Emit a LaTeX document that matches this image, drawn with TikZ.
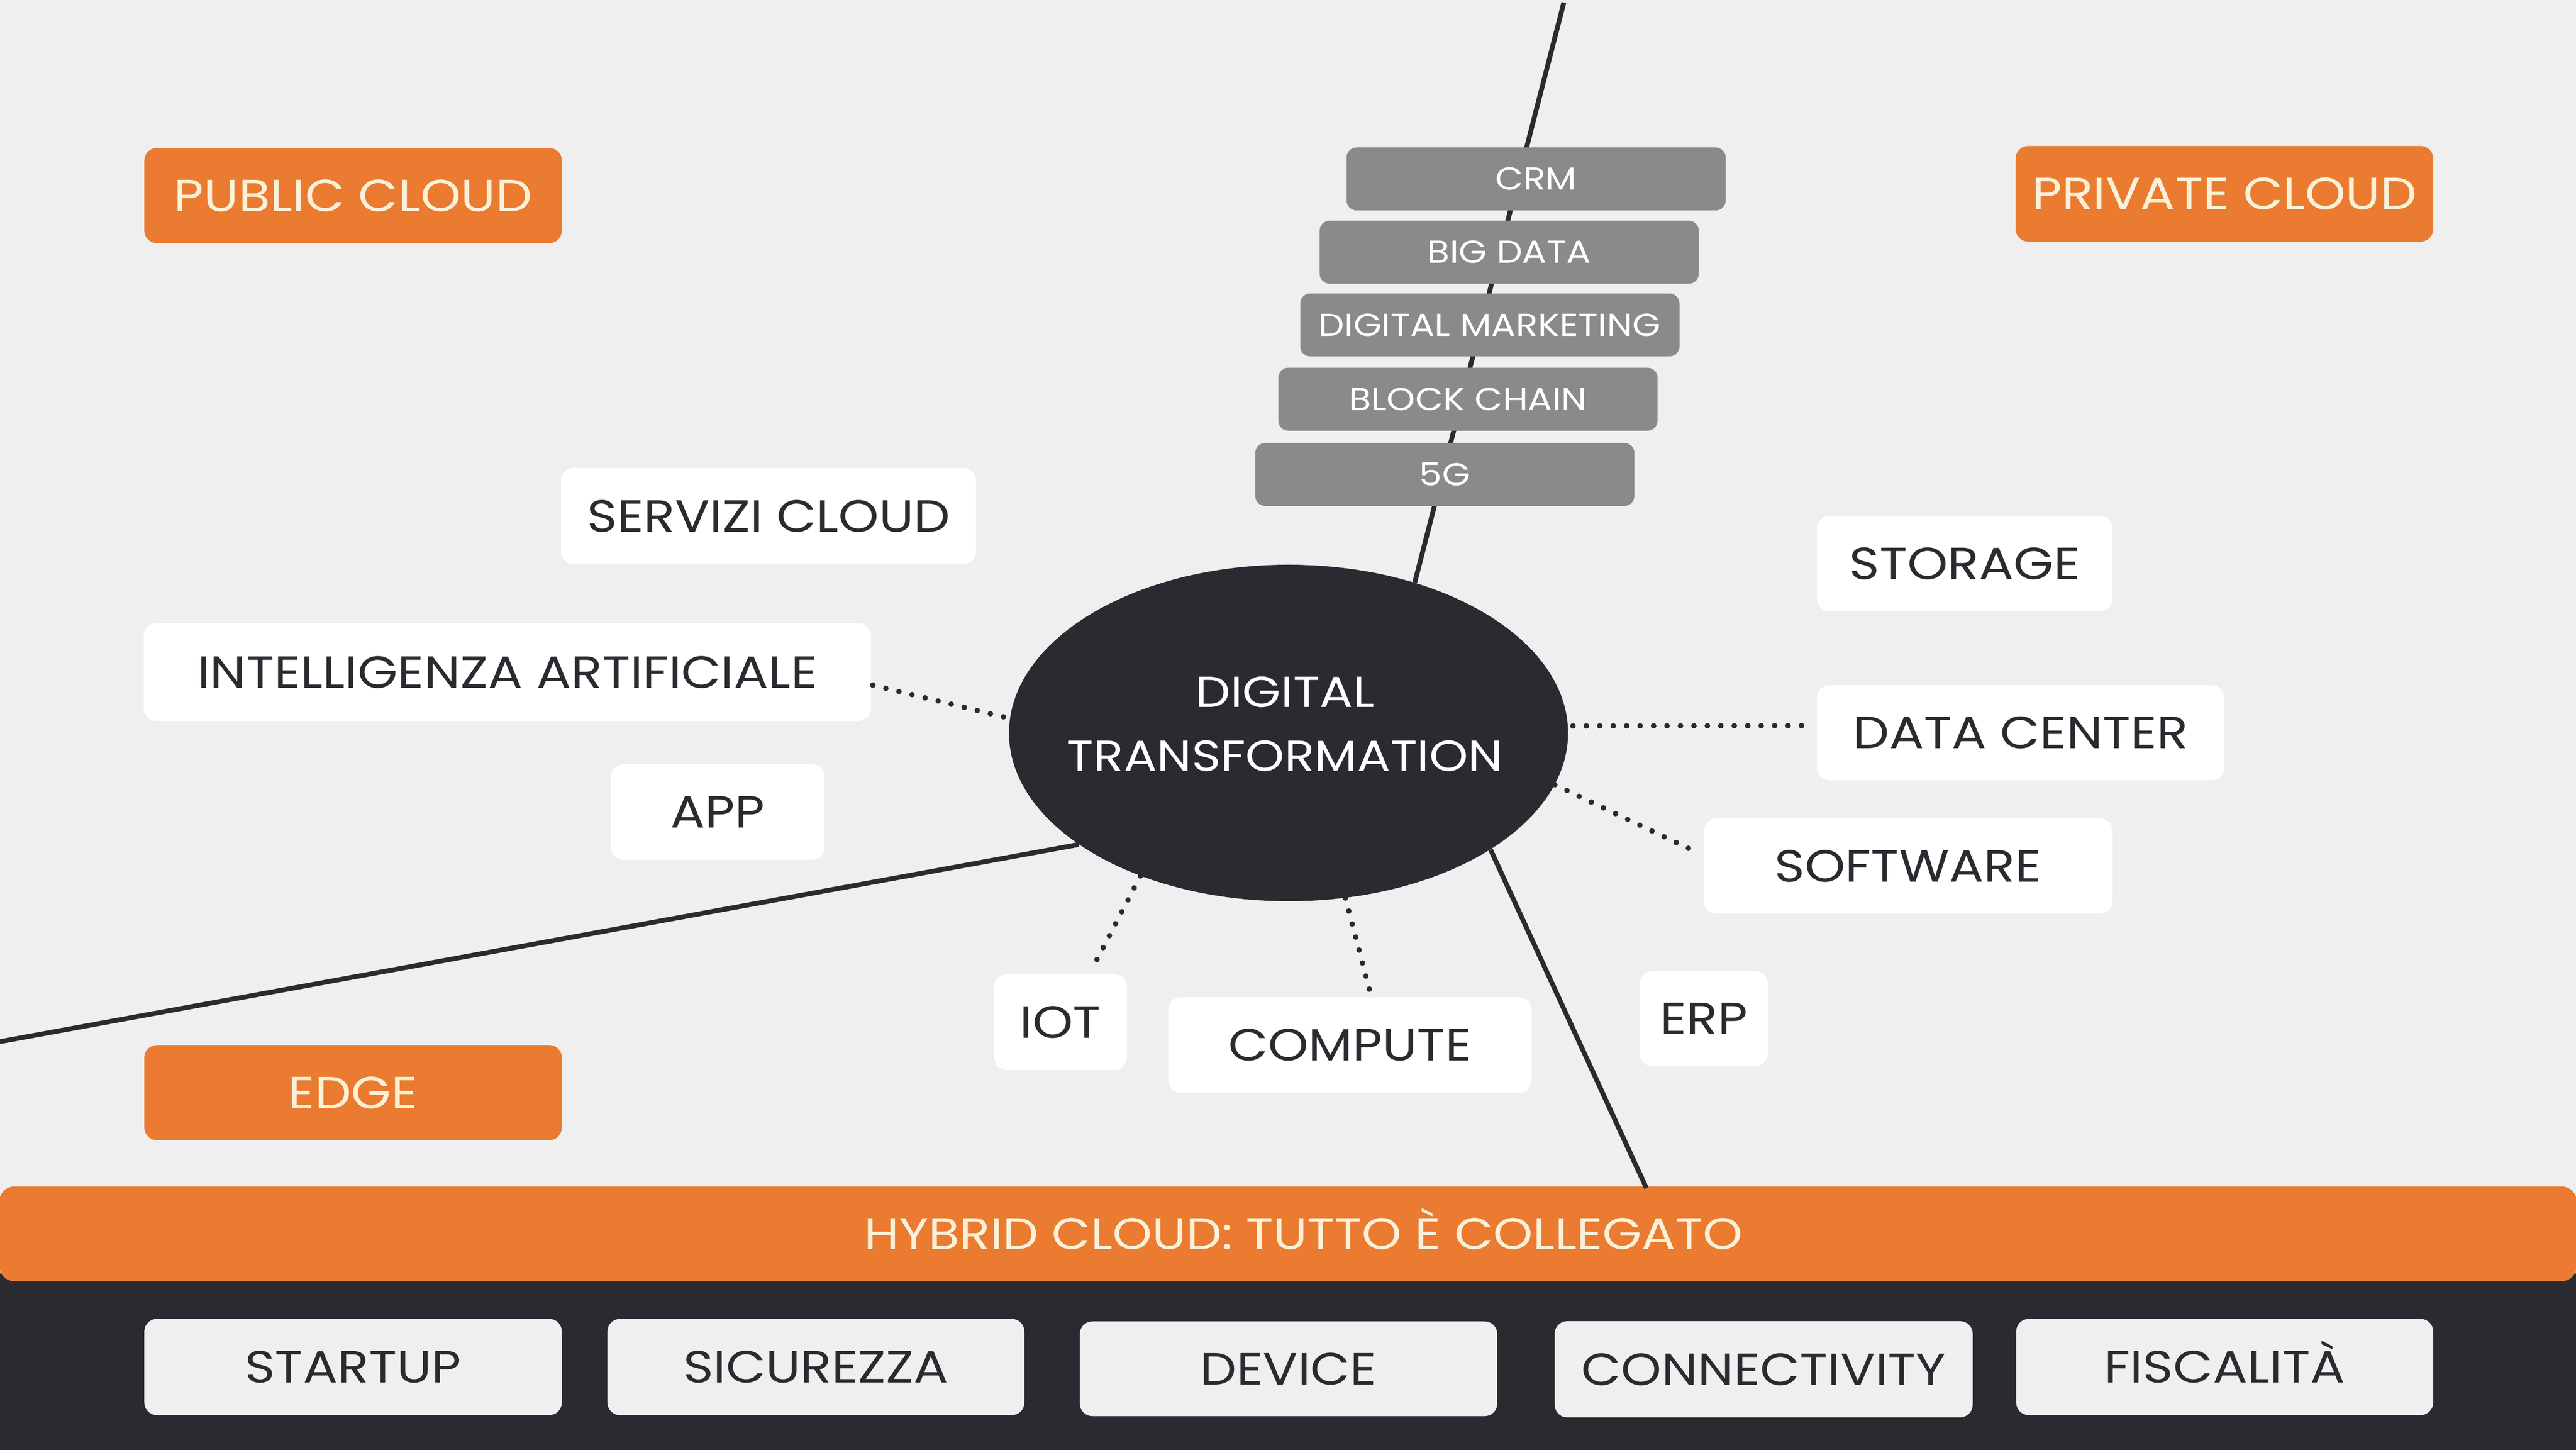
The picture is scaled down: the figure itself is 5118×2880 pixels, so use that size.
\documentclass[tikz,border=0pt]{standalone}
\usepackage{fontspec}
\setmainfont[FakeStretch=1.14]{Poppins}
\usetikzlibrary{shapes.geometric}
\definecolor{bgc}{HTML}{EFEFEF}
\definecolor{orangec}{HTML}{EA7B30}
\definecolor{darkc}{HTML}{2A2B30}
\definecolor{grayc}{HTML}{8A8A8A}
\definecolor{creamc}{HTML}{FBF1D8}
\definecolor{lightc}{HTML}{EFEFF0}
\tikzset{
  basebox/.style={rectangle, inner sep=0pt, rounded corners=0.25cm,
    font=\fontsize{25.5}{30}\selectfont, text height=0.63cm, text depth=0pt},
  wbox/.style={basebox, fill=white, text=darkc},
  obox/.style={basebox, fill=orangec, text=creamc},
  lbox/.style={basebox, fill=lightc, text=darkc},
  gbox/.style={rectangle, inner sep=0pt, rounded corners=0.2cm, fill=grayc, text=white,
    font=\fontsize{18}{22}\selectfont, text height=0.44cm, text depth=0pt,
    minimum width=7.53cm, minimum height=1.25cm},
  conn/.style={draw=darkc, line width=0.095cm},
  dotconn/.style={draw=darkc, line width=0.11cm, line cap=round, dash pattern=on 0pt off 0.267cm}
}
\begin{document}
\begin{tikzpicture}[x=0.01cm,y=-0.01cm]
\useasboundingbox (0,0) rectangle (5118,2880);
\clip (0,0) rectangle (5118,2880);
\fill[bgc] (0,0) rectangle (5118,2880);
% dark base panel
\fill[darkc, rounded corners=0.35cm] (0,2500) rectangle (5118,3100);

% central ellipse
\node[ellipse, fill=darkc, minimum width=11.1cm, minimum height=6.68cm, inner sep=0pt] (dt) at (2560,1456) {};
\node[text=white, align=center, inner sep=0pt, font=\fontsize{24.5}{36}\selectfont] (dtlabel) at (2553,1438)
  {DIGITAL\\TRANSFORMATION};

% hybrid bar
\node[rectangle, fill=orangec, rounded corners=0.3cm, minimum width=51.18cm, minimum height=1.88cm,
  inner sep=0pt] (hybrid) at (2559,2451) {};
\node[text=creamc, inner sep=0pt, font=\fontsize{25}{30}\selectfont, text height=0.61cm, text depth=0pt]
  (hybridlabel) at (2590,2451) {HYBRID CLOUD: TUTTO È COLLEGATO};

% solid connectors
\coordinate (topend) at (3107,5);
\coordinate (leftend) at (-10,2071);
\coordinate (bottomend) at (3271,2360);
\draw[conn] (topend) -- (dt.50.5);
\draw[conn] (dt.208) -- (leftend);
\draw[conn] (dt.-30.5) -- (bottomend);

% gray stack
\node[gbox] (crm) at (3052,355.5) {CRM};
\node[gbox] (bigdata) at (2998.5,501) {BIG DATA};
\node[gbox] (dmkt) at (2960,645.5) {DIGITAL MARKETING};
\node[gbox] (block) at (2916.5,793) {BLOCK CHAIN};
\node[gbox] (fiveg) at (2870.5,942.5) {5G};

% orange boxes
\node[obox, minimum width=8.29cm, minimum height=1.89cm] (public) at (701.5,388.5) {PUBLIC CLOUD};
\node[obox, minimum width=8.29cm, minimum height=1.90cm] (private) at (4419.5,385) {PRIVATE CLOUD};
\node[obox, minimum width=8.29cm, minimum height=1.89cm] (edge) at (701.5,2170.5) {EDGE};

% white boxes
\node[wbox, minimum width=8.24cm, minimum height=1.91cm] (servizi) at (1527,1025) {SERVIZI CLOUD};
\node[wbox, minimum width=14.44cm, minimum height=1.94cm] (intel) at (1008,1335) {INTELLIGENZA ARTIFICIALE};
\node[wbox, minimum width=4.24cm, minimum height=1.90cm] (app) at (1426,1613) {APP};
\node[wbox, minimum width=5.87cm, minimum height=1.89cm] (storage) at (3903.5,1119.5) {STORAGE};
\node[wbox, minimum width=8.09cm, minimum height=1.89cm] (dc) at (4014.5,1455.5) {DATA CENTER};
\node[wbox, minimum width=8.12cm, minimum height=1.89cm] (sw) at (3791,1720.5) {SOFTWARE};
\node[wbox, minimum width=2.54cm, minimum height=1.89cm] (erp) at (3385,2023.5) {ERP};
\node[wbox, minimum width=2.64cm, minimum height=1.90cm] (iot) at (2107,2030.5) {IOT};
\node[wbox, minimum width=7.21cm, minimum height=1.90cm] (compute) at (2682,2076) {COMPUTE};

% dotted connectors
\draw[dotconn, shorten <=0.03cm] (intel.-2) -- (dt.177.5);
\draw[dotconn, shorten <=0.09cm, shorten >=0.2cm] ([yshift=0.14cm]dt.east) -- ([yshift=0.14cm]dc.west);
\draw[dotconn, shorten >=0.08cm] (dt.-11) -- (sw.177);
\draw[dotconn, shorten >=0.08cm] (dt.224) -- (iot.59);
\draw[dotconn, shorten >=0.06cm] (dt.-71) -- (compute.66);

% bottom boxes
\node[lbox, minimum width=8.29cm, minimum height=1.91cm] (startup) at (701.5,2715.5) {STARTUP};
\node[lbox, minimum width=8.28cm, minimum height=1.91cm] (sicurezza) at (1621,2715.5) {SICUREZZA};
\node[lbox, minimum width=8.29cm, minimum height=1.88cm] (device) at (2560,2719) {DEVICE};
\node[lbox, minimum width=8.30cm, minimum height=1.91cm] (conn) at (3504,2720) {CONNECTIVITY};
\node[lbox, minimum width=8.28cm, minimum height=1.91cm] (fisc) at (4420,2715.5) {FISCALITÀ};
\end{tikzpicture}
\end{document}
